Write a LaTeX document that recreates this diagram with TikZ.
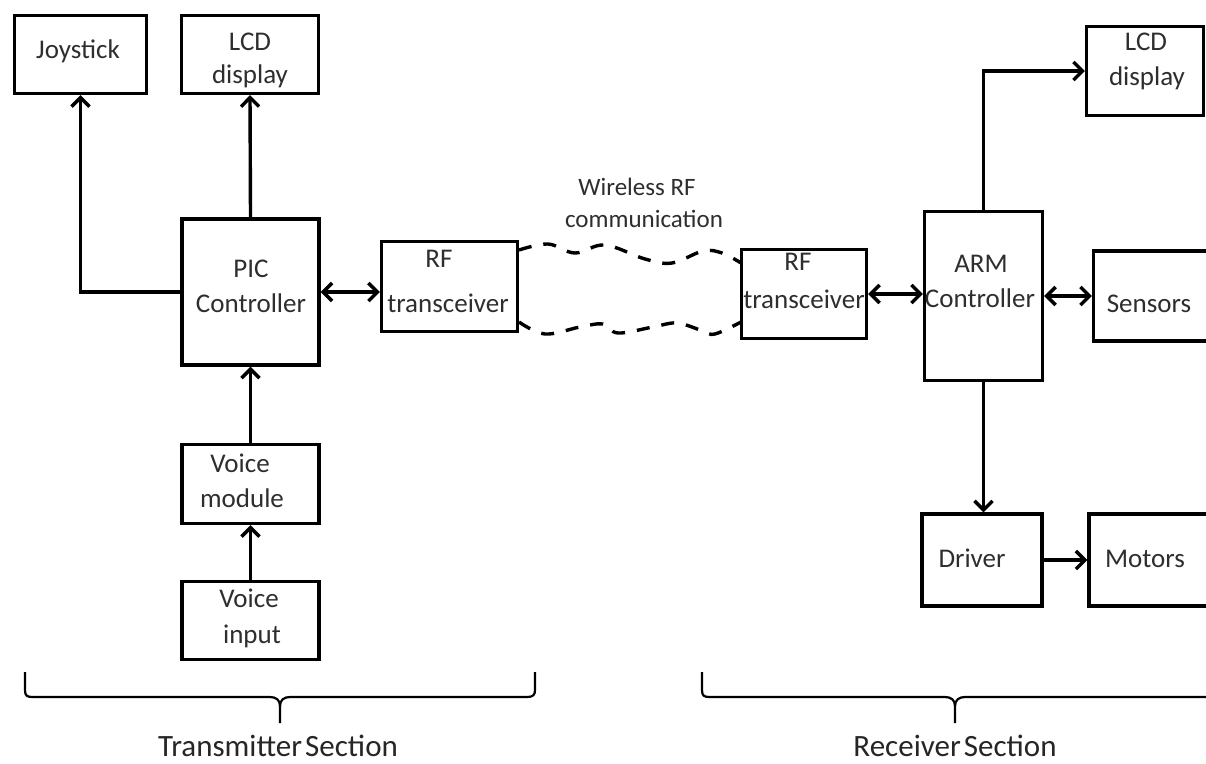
\documentclass[tikz,border=0pt]{standalone}
\usepackage{fontspec}
\setmainfont{Carlito}
\usetikzlibrary{arrows.meta}
\begin{document}
\begin{tikzpicture}[x=1pt,y=-1pt,
  box/.style={draw,line width=3.4pt,inner sep=0pt},
  txt/.style={font=\fontsize{27}{35}\selectfont,anchor=base,inner sep=0pt,text=black!82},
  wtxt/.style={font=\fontsize{25}{30}\selectfont,anchor=base,inner sep=0pt,text=black!82},
  stxt/.style={font=\fontsize{31}{36}\selectfont,anchor=base,inner sep=0pt,text=black!85},
  tip/.tip={Straight Barb[length=9pt,width=18pt]},
  arr/.style={draw,line width=3.4pt,-tip},
  darr/.style={draw,line width=3.4pt,tip-tip},
  wave/.style={draw,line width=3.4pt,dash pattern=on 13pt off 12pt},
  brace/.style={draw,line width=2.2pt}]
\clip (0,0) rectangle (1206,763);
\fill[white] (0,0) rectangle (1206,763);
% boxes
\node[box,minimum width=132pt,minimum height=78pt] (joy) at (80.5,54.5) {};
\node[box,minimum width=137pt,minimum height=78pt] (lcd1) at (250,54.5) {};
\node[box,minimum width=137pt,minimum height=146pt] (pic) at (250.5,292) {};
\node[box,minimum width=136pt,minimum height=90pt] (rf1) at (449.5,286.5) {};
\node[box,minimum width=137pt,minimum height=79pt] (vm) at (250.5,484) {};
\node[box,minimum width=137pt,minimum height=78pt] (vi) at (250.5,620.5) {};
\node[box,minimum width=125pt,minimum height=89pt] (rf2) at (804,294) {};
\node[box,minimum width=118pt,minimum height=169pt] (arm) at (983.5,296) {};
\node[box,minimum width=117pt,minimum height=89pt] (lcd2) at (1145,71) {};
\node[box,minimum width=123pt,minimum height=90pt] (sens) at (1155,296) {};
\node[box,minimum width=120pt,minimum height=92pt] (drv) at (982,560) {};
\node[box,minimum width=122pt,minimum height=92pt] (mot) at (1150,560) {};
% texts
\node[txt] (joyT) at (78,58) {Joystick};
\node[txt] (lcdAa) at (250,50) {LCD};
\node[txt] (lcdAb) at (250,83) {display};
\node[txt] (picTa) at (251,277) {PIC};
\node[txt] (picTb) at (251,312) {Controller};
\node[txt] (rfAa) at (439,267) {RF};
\node[txt] (rfAb) at (448,312) {transceiver};
\node[txt] (rfBa) at (798,270) {RF};
\node[txt] (rfBb) at (804,308) {transceiver};
\node[txt] (vmTa) at (240,472) {Voice};
\node[txt] (vmTb) at (242,507) {module};
\node[txt] (viTa) at (249,607) {Voice};
\node[txt] (viTb) at (252,643) {input};
\node[txt] (armTa) at (981,272) {ARM};
\node[txt] (armTb) at (980,307) {Controller};
\node[txt] (lcdBa) at (1146,50) {LCD};
\node[txt] (lcdBb) at (1147,85) {display};
\node[txt] (sensT) at (1149,312) {Sensors};
\node[txt] (drvT) at (972,567) {Driver};
\node[txt] (motT) at (1145,567) {Motors};
\node[wtxt] (wlA) at (637,195) {Wireless RF};
\node[wtxt] (wlB) at (644,227) {communication};
\node[stxt] (txS) at (278,756) {Transmitter\hspace{0.1em}Section};
\node[stxt] (rxS) at (955,756) {Receiver\hspace{0.1em}Section};
% connectors
\draw[arr] (pic.west) -| (joy.south);
\draw[arr] (pic.north) -- (lcd1.south);
\draw[darr] (pic.east) -- (pic.east -| rf1.west);
\draw[arr] (vm.north) -- (pic.south);
\draw[arr] (vi.north) -- (vm.south);
\draw[darr] (rf2.east) -- (rf2.east -| arm.west);
\draw[darr] (arm.east) -- (arm.east -| sens.west);
\draw[arr] (arm.north) |- (lcd2.west);
\draw[arr] (arm.south) -- (arm.south |- drv.north);
\draw[arr] (drv.east) -- (drv.east -| mot.west);
% wireless waves
\coordinate (wTa) at (519,250);
\coordinate (wTb) at (741,263);
\coordinate (wBa) at (519,322);
\coordinate (wBb) at (741,322);
\draw[wave] plot[smooth,tension=0.6] coordinates {(wTa) (548,244) (575,253) (605,245) (645,259) (672,263) (703,251) (722,253) (wTb)};
\draw[wave] plot[smooth,tension=0.6] coordinates {(wBa) (545,334) (580,327) (603,324) (618,333) (653,327) (677,323) (703,331) (715,334) (wBb)};
% braces
\draw[brace] (25,672) -- (25,690) .. controls (25,696) and (27,697) .. (33,697) -- (270,697) .. controls (276,697) and (280,700) .. (280,706) -- (280,723);
\draw[brace] (280,706) .. controls (280,700) and (284,697) .. (290,697) -- (527,697) .. controls (533,697) and (535,695) .. (535,690) -- (535,672);
\draw[brace] (702,672) -- (702,690) .. controls (702,696) and (704,697) .. (710,697) -- (945,697) .. controls (951,697) and (955,700) .. (955,706) -- (955,723);
\draw[brace] (955,706) .. controls (955,700) and (959,697) .. (965,697) -- (1215,697);
\end{tikzpicture}
\end{document}
